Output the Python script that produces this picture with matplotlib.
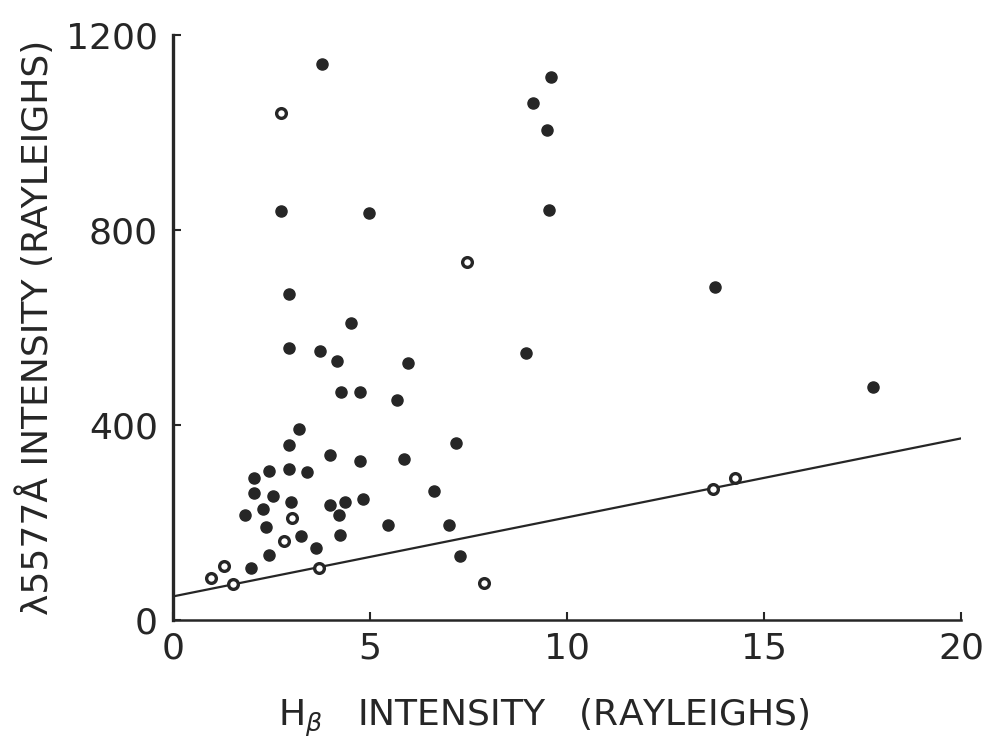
import numpy as np
import matplotlib
matplotlib.use("Agg")
import matplotlib.pyplot as plt

# filled points (H-beta, 5577)
hb_filled = [3.79, 9.59, 9.12, 9.50, 2.74, 4.97, 9.55, 2.93, 4.52, 2.95, 3.74, 4.16,
             5.97, 8.96, 4.26, 4.75, 5.68, 3.19, 2.95, 7.17, 3.98, 4.75, 5.85, 2.06,
             2.44, 2.94, 3.41, 2.06, 2.53, 2.99, 3.98, 4.37, 4.83, 6.61, 1.83, 2.28,
             4.22, 2.35, 5.46, 7.00, 3.24, 4.24, 3.62, 2.44, 7.27, 1.97, 17.77, 13.76]
ol_filled = [1140, 1113, 1061, 1006, 839, 835, 841, 669, 609, 559, 552, 532,
             528, 547, 468, 468, 451, 392, 360, 364, 338, 326, 330, 291,
             306, 310, 303, 260, 255, 243, 237, 243, 248, 265, 215, 228,
             215, 191, 196, 196, 172, 174, 149, 133, 132, 108, 479, 683]

# open points
hb_open = [2.74, 7.47, 13.71, 14.26, 1.51, 3.69, 0.96, 1.28, 7.88, 3.03, 2.82]
ol_open = [1039, 734, 270, 291, 75, 108, 87, 111, 77, 209, 163]

# lower-limit line
line_x = [0, 20]
line_y = [49, 373]

ink = "#262626"

fig = plt.figure(figsize=(9.89, 7.42), dpi=100)
ax = fig.add_axes([0.175, 0.164, 0.797, 0.789])

ax.plot(line_x, line_y, color=ink, lw=1.6)
ax.plot(hb_filled, ol_filled, "o", color=ink, ms=8, mec=ink)
ax.plot(hb_open, ol_open, "o", color="white", ms=7, mec=ink, mew=2.4)

ax.set_xlim(0, 20)
ax.set_ylim(0, 1200)
ax.set_xticks([0, 5, 10, 15, 20])
ax.set_yticks([0, 400, 800, 1200])
ax.spines["top"].set_visible(False)
ax.spines["right"].set_visible(False)
ax.spines["left"].set_linewidth(2.4)
ax.spines["bottom"].set_linewidth(1.8)
for s in ["left", "bottom"]:
    ax.spines[s].set_color(ink)
ax.tick_params(direction="in", length=6, width=1.5, color=ink,
               labelsize=26, labelcolor=ink)
ax.tick_params(axis="y", pad=11)
ax.tick_params(axis="x", pad=8)

ax.set_xlabel(r"H$_\beta$   INTENSITY   (RAYLEIGHS)", fontsize=26, color=ink)
ax.xaxis.set_label_coords(0.47, -0.13)
ax.set_ylabel("λ5577Å INTENSITY (RAYLEIGHS)", fontsize=26, color=ink)
ax.yaxis.set_label_coords(-0.15, 0.5)

fig.savefig("out.png", dpi=100)
